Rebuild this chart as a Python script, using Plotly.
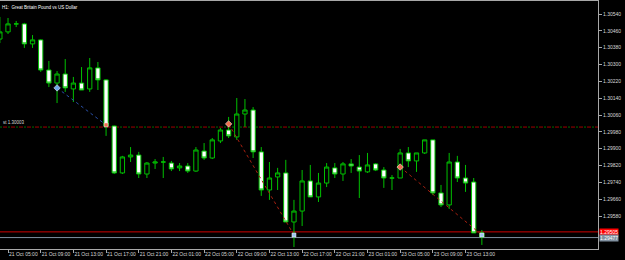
import plotly.graph_objects as go
import pandas as pd

# ---- data -------------------------------------------------------------
times = pd.date_range("2019-10-21 04:00", periods=60, freq="h")

opens = [1.30421, 1.30455, 1.30493, 1.30493, 1.30398, 1.30417, 1.30274, 1.30212, 1.30255, 1.30184,
         1.30212, 1.30184, 1.30284, 1.30227, 1.30008, 1.29785, 1.29861, 1.29870, 1.29780, 1.29832,
         1.29837, 1.29832, 1.29809, 1.29818, 1.29794, 1.29889, 1.29856, 1.29937, 1.29989, 1.29956,
         1.30065, 1.30084, 1.29885, 1.29704, 1.29766, 1.29785, 1.29552, 1.29604, 1.29747, 1.29671,
         1.29737, 1.29809, 1.29780, 1.29828, 1.29813, 1.29790, 1.29828, 1.29799, 1.29761, 1.29761,
         1.29880, 1.29842, 1.29880, 1.29942, 1.29690, 1.29633, 1.29837, 1.29761, 1.29742, 1.29500]
highs = [1.30526, 1.30521, 1.30507, 1.30498, 1.30440, 1.30420, 1.30317, 1.30269, 1.30326, 1.30241,
         1.30288, 1.30331, 1.30312, 1.30230, 1.30010, 1.29866, 1.29908, 1.29885, 1.29837, 1.29851,
         1.29861, 1.29842, 1.29832, 1.29832, 1.29908, 1.29927, 1.29951, 1.29999, 1.30051, 1.30141,
         1.30136, 1.30098, 1.29908, 1.29837, 1.29809, 1.29847, 1.29657, 1.29799, 1.29823, 1.29785,
         1.29832, 1.29832, 1.29837, 1.29851, 1.29870, 1.29880, 1.29832, 1.29813, 1.29775, 1.29899,
         1.29908, 1.29880, 1.29942, 1.29942, 1.29728, 1.29880, 1.29866, 1.29823, 1.29761, 1.29514]
lows = [1.30402, 1.30445, 1.30478, 1.30379, 1.30379, 1.30265, 1.30193, 1.30117, 1.30170, 1.30122,
        1.30179, 1.30170, 1.30179, 1.29961, 1.29780, 1.29780, 1.29837, 1.29761, 1.29761, 1.29804,
        1.29761, 1.29794, 1.29794, 1.29785, 1.29790, 1.29847, 1.29851, 1.29927, 1.29951, 1.29942,
        1.30003, 1.29856, 1.29676, 1.29657, 1.29704, 1.29552, 1.29433, 1.29533, 1.29671, 1.29647,
        1.29718, 1.29761, 1.29747, 1.29785, 1.29666, 1.29785, 1.29794, 1.29714, 1.29704, 1.29761,
        1.29813, 1.29790, 1.29875, 1.29680, 1.29623, 1.29614, 1.29742, 1.29695, 1.29500, 1.29443]
closes = [1.30455, 1.30493, 1.30493, 1.30398, 1.30417, 1.30274, 1.30212, 1.30255, 1.30189, 1.30212,
          1.30179, 1.30284, 1.30227, 1.30008, 1.29785, 1.29861, 1.29870, 1.29780, 1.29832, 1.29837,
          1.29837, 1.29804, 1.29818, 1.29794, 1.29894, 1.29856, 1.29942, 1.29989, 1.29961, 1.30065,
          1.30084, 1.29885, 1.29704, 1.29761, 1.29785, 1.29552, 1.29604, 1.29747, 1.29671, 1.29737,
          1.29813, 1.29780, 1.29828, 1.29818, 1.29794, 1.29823, 1.29799, 1.29761, 1.29761, 1.29880,
          1.29842, 1.29880, 1.29942, 1.29690, 1.29633, 1.29837, 1.29761, 1.29737, 1.29500, 1.29481]

# trade history (open -> close)
trade_open_times = ["2019-10-21 11:00", "2019-10-22 08:00", "2019-10-23 05:00"]
trade_open_prices = [1.30189, 1.30018, 1.29813]
trade_close_times = ["2019-10-21 17:00", "2019-10-22 16:00", "2019-10-23 15:00"]
trade_close_prices = [1.30013, 1.29490, 1.29490]
trade_types = ["buy", "sell", "sell"]

sl_price = 1.30003
sl_label = "st 1.30003"
ask_price = 1.29505
bid_price = 1.29478
ask_label = "1.29505"
bid_label = "1.29477"

y_ticks = [1.29580, 1.29660, 1.29740, 1.29820, 1.29900, 1.29980, 1.30060,
           1.30140, 1.30220, 1.30300, 1.30380, 1.30460, 1.30540]
x_ticks = pd.date_range("2019-10-21 05:00", "2019-10-23 13:00", freq="4h")
title_text = "H1:  Great Britain Pound vs US Dollar"

# ---- styling ----------------------------------------------------------
GREEN = "#00c000"
FRAME = "#a8a8a8"
TXT = "#d8d8d8"
FONT = "Liberation Sans"

fig = go.Figure()

# SL line: dark red dashes with dark green between
fig.add_hline(y=sl_price, line=dict(color="#007000", width=1, dash="2px,6px"), layer="below")
fig.add_hline(y=sl_price, line=dict(color="#a00000", width=1, dash="0px,3px,4px,1px"), layer="below")
fig.add_hline(y=ask_price, line=dict(color="#d00000", width=1), layer="below")
fig.add_hline(y=bid_price, line=dict(color="#8090a0", width=1), layer="below")

fig.add_trace(go.Candlestick(
    x=times, open=opens, high=highs, low=lows, close=closes,
    increasing=dict(line=dict(color=GREEN, width=1), fillcolor="black"),
    decreasing=dict(line=dict(color=GREEN, width=1), fillcolor="white"),
    whiskerwidth=0, showlegend=False, hoverinfo="skip"))

for ot, op, ct, cp, tt in zip(trade_open_times, trade_open_prices,
                              trade_close_times, trade_close_prices, trade_types):
    lc = "#2a50a8" if tt == "buy" else "#a82010"
    fig.add_trace(go.Scatter(x=[ot, ct], y=[op, cp], mode="lines",
                             line=dict(color=lc, width=1, dash="dot"),
                             showlegend=False, hoverinfo="skip"))
    oc = "#6fa8e8" if tt == "buy" else "#f07050"
    cc = "#f07050" if tt == "buy" else "#9ec4f0"
    fig.add_trace(go.Scatter(x=[ot], y=[op], mode="markers",
                             marker=dict(symbol="diamond", size=5, color=oc,
                                         line=dict(color="white", width=0.5)),
                             showlegend=False, hoverinfo="skip"))
    fig.add_trace(go.Scatter(x=[ct], y=[cp], mode="markers",
                             marker=dict(symbol="square", size=4, color=cc,
                                         line=dict(color="white", width=0.5)),
                             showlegend=False, hoverinfo="skip"))

fig.add_annotation(xref="paper", yref="paper", x=0.0, y=1.0, xanchor="left", yanchor="top",
                   text=title_text, showarrow=False, font=dict(family=FONT, size=4.5, color="white"),
                   yshift=-2)
fig.add_annotation(xref="paper", yref="y", x=0.002, y=sl_price, xanchor="left", yanchor="bottom",
                   text=sl_label, showarrow=False, font=dict(family=FONT, size=4.5, color=TXT))
fig.add_annotation(xref="paper", yref="y", x=1.0, y=ask_price, xanchor="left", yanchor="middle",
                   text=ask_label, showarrow=False, bgcolor="#ff0000",
                   font=dict(family=FONT, size=5, color="white"), borderpad=0, xshift=1)
fig.add_annotation(xref="paper", yref="y", x=1.0, y=bid_price, xanchor="left", yanchor="middle",
                   text=bid_label, showarrow=False, bgcolor="#8090a0",
                   font=dict(family=FONT, size=5, color="white"), borderpad=0, xshift=1)

fig.update_layout(
    width=625, height=260, margin=dict(l=0, r=27, t=1, b=11),
    paper_bgcolor="black", plot_bgcolor="black", boxgap=0.25,
    font=dict(family=FONT, size=5, color=TXT),
    xaxis=dict(type="date", range=["2019-10-21 04:01", "2019-10-24 05:13"],
               rangeslider=dict(visible=False), showgrid=False, zeroline=False,
               tickvals=list(x_ticks), tickformat="%d %b %H:%M", tickangle=0,
               ticklabelposition="outside right", ticks="outside", ticklen=3,
               tickcolor=FRAME, showline=True, linecolor=FRAME, linewidth=1, mirror=True,
               tickfont=dict(family=FONT, size=5, color=TXT)),
    yaxis=dict(side="right", range=[1.294237, 1.306018], showgrid=False, zeroline=False,
               tickvals=y_ticks, tickformat=".5f", ticks="outside", ticklen=3,
               tickcolor=FRAME, showline=True, linecolor=FRAME, linewidth=1, mirror=True,
               tickfont=dict(family=FONT, size=5, color=TXT)),
)

fig.write_html("out.html")
